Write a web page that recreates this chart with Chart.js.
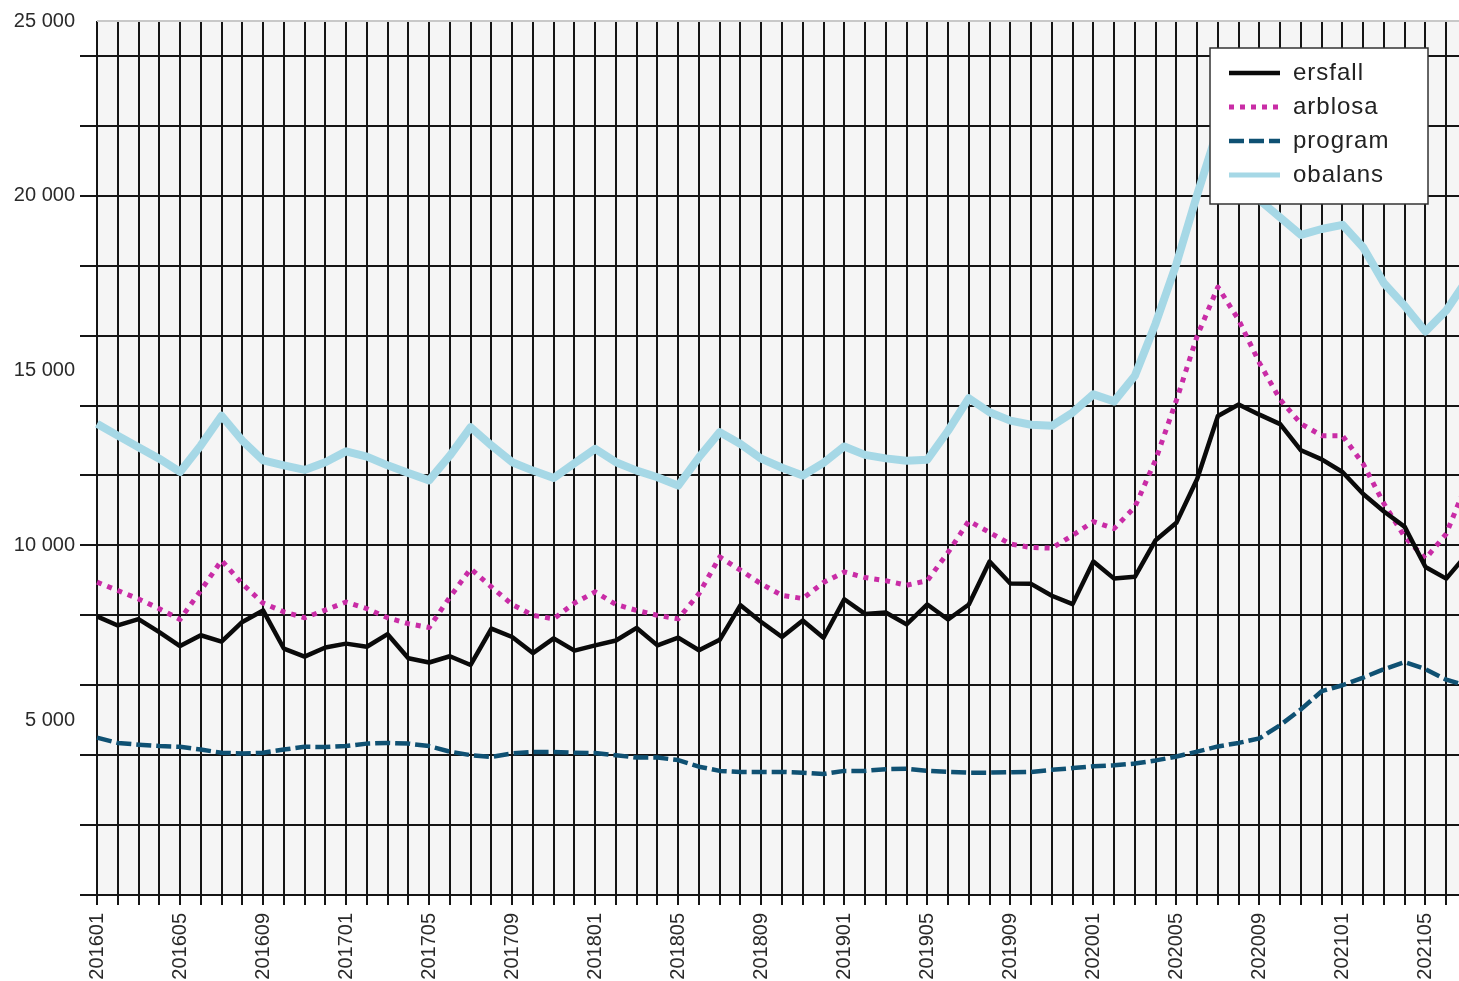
<!DOCTYPE html>
<html>
<head>
<meta charset="utf-8">
<script src="https://cdn.jsdelivr.net/npm/chart.js@4/dist/chart.umd.min.js"></script>
<style>
  html, body { margin: 0; padding: 0; background: #fff; overflow: hidden; }
  #wrap { width: 1499px; height: 981px; }
</style>
</head>
<body>
<div id="wrap"><canvas id="c" width="1499" height="981"></canvas></div>
<script>
// months 201601 .. 202107
const months = [];
for (let y = 2016; y <= 2021; y++) {
  for (let m = 1; m <= 12; m++) {
    if (y === 2021 && m > 7) break;
    months.push(String(y) + String(m).padStart(2, "0"));
  }
}

const ersfall = [
  7970, 7710, 7890, 7520, 7120, 7430, 7250, 7810, 8140, 7050, 6820, 7080,
  7190, 7100, 7460, 6770, 6650, 6830, 6580, 7620, 7380, 6920, 7340, 6990,
  7140, 7280, 7640, 7140, 7360, 7000, 7300, 8290, 7810, 7380, 7850, 7360,
  8460, 8040, 8080, 7740, 8310, 7880, 8310, 9540, 8910, 8900, 8560, 8320,
  9540, 9050, 9100, 10150, 10650, 11900, 13700, 14030, 13740, 13470, 12720, 12460,
  12100, 11470, 10970, 10530, 9380, 9050, 9750
];

const arblosa = [
  8950, 8710, 8470, 8190, 7880, 8710, 9570, 8900, 8350, 8100, 7930, 8150,
  8380, 8190, 7930, 7760, 7650, 8520, 9330, 8810, 8310, 8000, 7900, 8350,
  8670, 8310, 8140, 8000, 7900, 8620, 9670, 9290, 8900, 8570, 8480, 8940,
  9240, 9080, 8990, 8860, 8990, 9800, 10700, 10370, 10040, 9940, 9920, 10290,
  10680, 10480, 11100, 12450, 14150, 15990, 17390, 16450, 15220, 14170, 13480, 13140,
  13140, 12330, 11190, 10240, 9620, 10330, 11800
];

const program = [
  4500, 4350, 4300, 4260, 4240, 4160, 4070, 4050, 4070, 4160, 4240, 4230,
  4260, 4330, 4350, 4330, 4260, 4100, 4000, 3950, 4050, 4090, 4090, 4070,
  4060, 4000, 3930, 3930, 3860, 3670, 3550, 3520, 3520, 3520, 3500, 3460,
  3550, 3550, 3600, 3610, 3550, 3520, 3500, 3500, 3510, 3520, 3580, 3630,
  3680, 3710, 3760, 3850, 3960, 4100, 4250, 4350, 4480, 4860, 5310, 5830,
  6000, 6220, 6460, 6660, 6460, 6160, 5980
];

const obalans = [
  13480, 13140, 12810, 12480, 12100, 12860, 13710, 13000, 12430, 12290, 12160, 12380,
  12690, 12540, 12290, 12070, 11860, 12570, 13380, 12860, 12380, 12140, 11930, 12350,
  12760, 12380, 12140, 11950, 11710, 12520, 13240, 12900, 12480, 12220, 12000, 12360,
  12830, 12590, 12490, 12420, 12450, 13280, 14210, 13810, 13570, 13450, 13420, 13800,
  14320, 14120, 14850, 16350, 18050, 20030, 21900, 21000, 19880, 19380, 18880, 19050,
  19170, 18520, 17500, 16850, 16120, 16720, 17600
];

const FONT = "'Liberation Sans', Arial, sans-serif";
const GRID = "#151515";

function fmt(v) {
  return String(v).replace(/\B(?=(\d{3})+(?!\d))/g, " ");
}

// grå bakgrund i ritytan
const plotBg = {
  id: "plotBg",
  beforeDraw(chart) {
    const { ctx, chartArea: a } = chart;
    ctx.save();
    ctx.fillStyle = "#f5f5f5";
    ctx.fillRect(a.left, a.top, a.right - a.left, a.bottom - a.top);
    ctx.restore();
  }
};

// legend i rutan uppe till höger
const boxLegend = {
  id: "boxLegend",
  afterDraw(chart) {
    const ctx = chart.ctx;
    const x = 1210, y = 48, w = 218, h = 156;
    ctx.save();
    ctx.fillStyle = "#fff";
    ctx.fillRect(x, y, w, h);
    ctx.strokeStyle = "#333";
    ctx.lineWidth = 1.5;
    ctx.strokeRect(x, y, w, h);
    chart.data.datasets.forEach((ds, i) => {
      const ry = 73 + i * 34;
      ctx.beginPath();
      ctx.strokeStyle = ds.borderColor;
      ctx.lineWidth = Math.min(ds.borderWidth, 5);
      ctx.setLineDash(ds.borderDash || []);
      ctx.moveTo(1229, ry);
      ctx.lineTo(1280, ry);
      ctx.stroke();
      ctx.setLineDash([]);
      ctx.fillStyle = "#222";
      ctx.font = "24px " + FONT;
      ctx.letterSpacing = "1px";
      ctx.textBaseline = "middle";
      ctx.fillText(ds.label, 1293, ry);
    });
    ctx.restore();
  }
};

new Chart(document.getElementById("c"), {
  type: "line",
  data: {
    labels: months,
    datasets: [
      { label: "ersfall", data: ersfall, borderColor: "#0a0a0a", borderWidth: 4.5 },
      { label: "arblosa", data: arblosa, borderColor: "#c92ca6", borderWidth: 5, borderDash: [5, 6] },
      { label: "program", data: program, borderColor: "#0f5173", borderWidth: 4.5, borderDash: [15, 5] },
      { label: "obalans", data: obalans, borderColor: "#a6d8e6", borderWidth: 8 }
    ]
  },
  options: {
    responsive: false,
    maintainAspectRatio: false,
    animation: false,
    layout: { padding: { top: 21, right: 13, left: 0, bottom: 0 } },
    elements: {
      point: { radius: 0 },
      line: { tension: 0, borderJoinStyle: "round", fill: false }
    },
    scales: {
      x: {
        grid: { color: GRID, lineWidth: 2, tickLength: 10 },
        border: { display: false },
        ticks: {
          autoSkip: false,
          maxRotation: 90,
          minRotation: 90,
          padding: 8,
          color: "#2a2a2a",
          font: { family: FONT, size: 20 },
          callback: (v, i) => (i % 4 === 0 ? months[i] : "")
        },
        afterFit(s) { s.height = 86; }
      },
      y: {
        min: 0,
        max: 25000,
        border: { display: false },
        grid: {
          lineWidth: 2,
          tickLength: 17,
          color: (c) => (c.tick.value % 2000 === 0 ? GRID : c.tick.value === 25000 ? "#c8c8c8" : "rgba(0,0,0,0)"),
          tickColor: (c) => (c.tick.value % 2000 === 0 ? GRID : "rgba(0,0,0,0)")
        },
        ticks: {
          stepSize: 1000,
          autoSkip: false,
          padding: 5,
          color: "#2a2a2a",
          font: { family: FONT, size: 20 },
          callback: (v) => (v % 5000 === 0 && v > 0 ? fmt(v) : "")
        },
        afterFit(s) { s.width = 97; }
      }
    },
    plugins: {
      legend: { display: false },
      tooltip: { enabled: false }
    }
  },
  plugins: [plotBg, boxLegend]
});
</script>
</body>
</html>
